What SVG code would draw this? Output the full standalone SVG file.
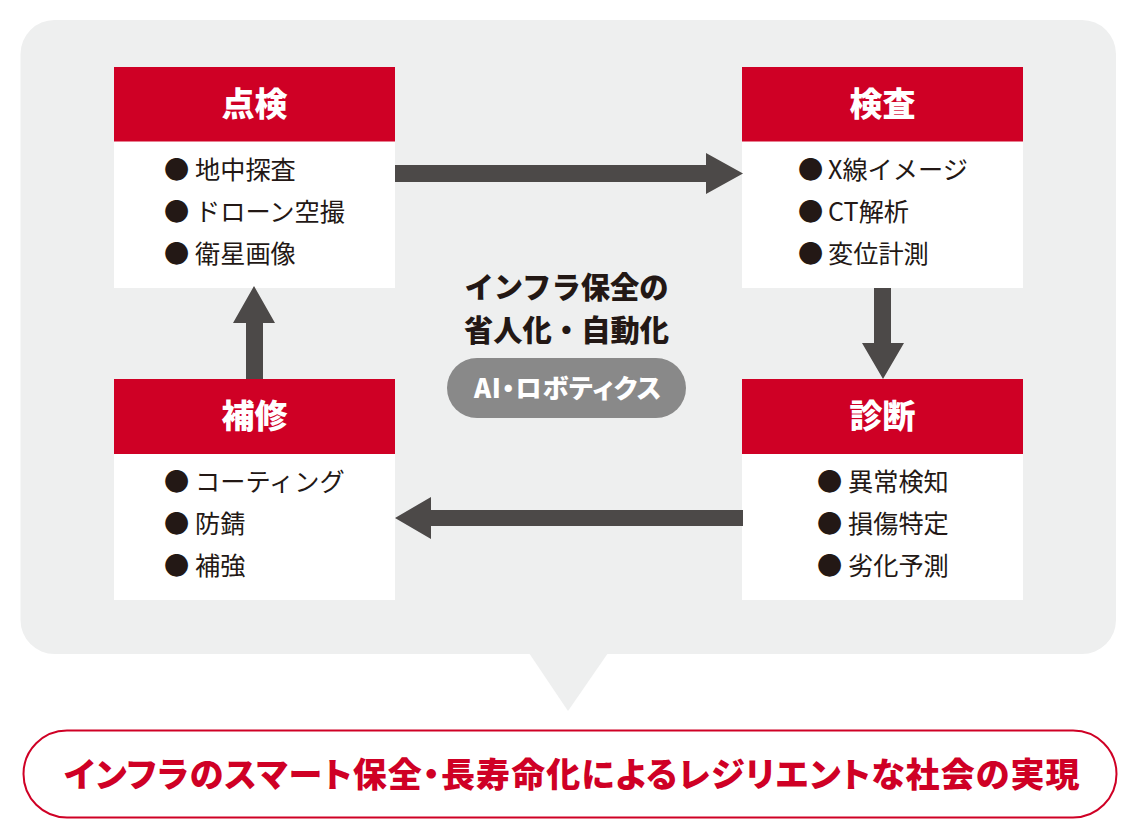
<svg xmlns="http://www.w3.org/2000/svg" width="1140" height="840" viewBox="0 0 1140 840">
<style>
text{font-family:"Noto Sans CJK JP","Noto Sans CJK SC",sans-serif}
.head{fill:#cf0025}
.body{fill:#fff}
.ht{font-size:33px;font-weight:900;fill:#fff;text-anchor:middle}
.it{font-size:25.200px;fill:#231815}
.ct{font-size:29.300px;font-weight:900;fill:#231815;text-anchor:middle}
.ar{fill:#4c4948}
.palt{font-feature-settings:"palt"}
</style>
<rect x="0" y="0" width="1140" height="840" fill="#fff"/>
<g id="panel"><rect x="20.500" y="20" width="1095.500" height="634" rx="34" fill="#eeefef"/><path d="M529 653L568 711L608 653Z" fill="#eeefef"/></g>
<g id="node-tenken">
<rect class="body" x="114" y="67" width="281" height="221"/><rect class="head" x="114" y="67" width="281" height="74.500"/>
<text class="ht" x="254.500" y="115.500">点検</text>
<text class="it" x="164" y="179">●<tspan x="195">地中探査</tspan></text>
<text class="it" x="164" y="221">●<tspan x="195">ドローン空撮</tspan></text>
<text class="it" x="164" y="263">●<tspan x="195">衛星画像</tspan></text>
</g>
<g id="node-kensa">
<rect class="body" x="742" y="67" width="281" height="221"/><rect class="head" x="742" y="67" width="281" height="74.500"/>
<text class="ht" x="882.500" y="115.500">検査</text>
<text class="it" x="798" y="179">●<tspan x="828">X線イメージ</tspan></text>
<text class="it" x="798" y="221">●<tspan x="828">CT解析</tspan></text>
<text class="it" x="798" y="263">●<tspan x="828">変位計測</tspan></text>
</g>
<g id="node-shindan">
<rect class="body" x="742" y="379" width="281" height="221"/><rect class="head" x="742" y="379" width="281" height="75"/>
<text class="ht" x="882.500" y="428">診断</text>
<text class="it" x="817" y="491">●<tspan x="848">異常検知</tspan></text>
<text class="it" x="817" y="533">●<tspan x="848">損傷特定</tspan></text>
<text class="it" x="817" y="575">●<tspan x="848">劣化予測</tspan></text>
</g>
<g id="node-hoshu">
<rect class="body" x="114" y="379" width="281" height="221"/><rect class="head" x="114" y="379" width="281" height="75"/>
<text class="ht" x="254.500" y="428">補修</text>
<text class="it" x="164" y="491">●<tspan x="195">コーティング</tspan></text>
<text class="it" x="164" y="533">●<tspan x="195">防錆</tspan></text>
<text class="it" x="164" y="575">●<tspan x="195">補強</tspan></text>
</g>
<g id="connectors">
<path class="ar" d="M395 165H706V153L743 173.500L706 194V182H395Z"/>
<path class="ar" d="M874 288H891V343H904L883 379L862 343H874Z"/>
<path class="ar" d="M743 510H431V497L395 518L431 539V526H743Z"/>
<path class="ar" d="M246 379V323H233L254 286L275 323H263V379Z"/>
</g>
<g id="node-center">
<text class="ct" x="566.500" y="298">インフラ保全の</text>
<text class="ct" x="566.500" y="341">省人化・自動化</text>
<rect x="447" y="358" width="239" height="60" rx="30" fill="#898989"/>
<text class="palt" x="474" y="398" font-size="26" font-weight="900" fill="#fff" letter-spacing="0.700">AI・ロボティクス</text>
</g>
<g id="node-result">
<rect x="23.500" y="730.500" width="1093" height="87" rx="43.500" fill="#fff" stroke="#cf0025" stroke-width="2"/>
<text class="palt" x="64" y="787" font-size="34" font-weight="900" fill="#cf0025" letter-spacing="1.100">インフラのスマート保全・長寿命化によるレジリエントな社会の実現</text>
</g>
</svg>
